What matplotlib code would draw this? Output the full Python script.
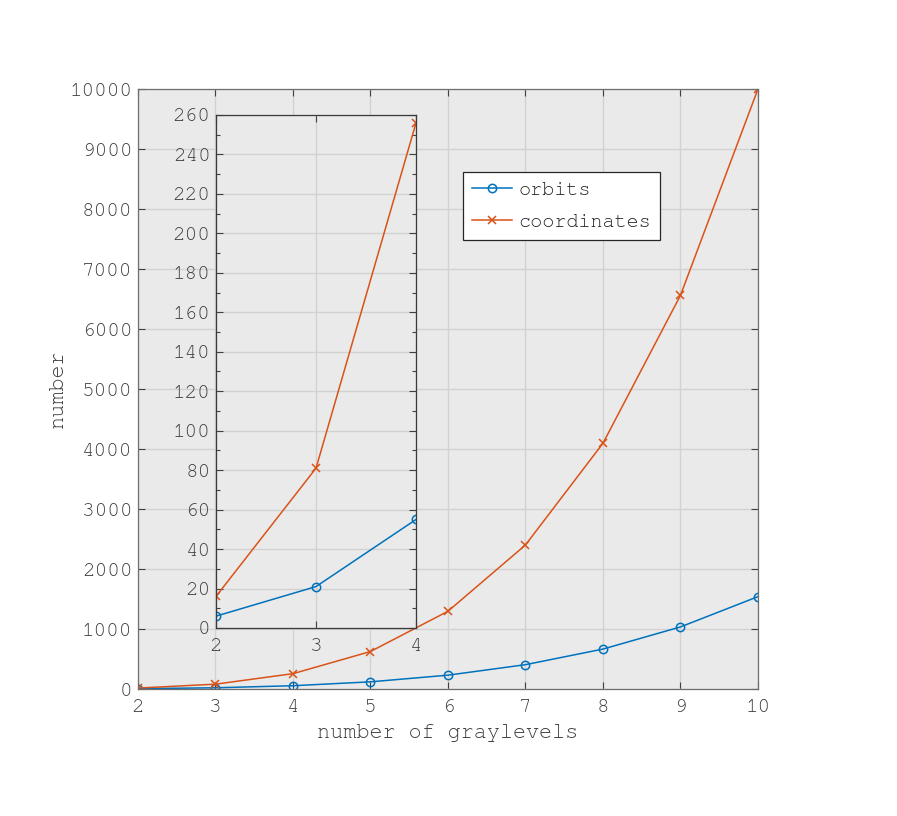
import matplotlib
matplotlib.use('Agg')
import matplotlib.pyplot as plt
from matplotlib.ticker import MultipleLocator

# Data
graylevels = [2, 3, 4, 5, 6, 7, 8, 9, 10]
orbits = [6, 21, 55, 120, 231, 406, 666, 1035, 1540]
coordinates = [16, 81, 256, 625, 1296, 2401, 4096, 6561, 10000]

main_yticks = [0, 1000, 2000, 3000, 4000, 5000, 6000, 7000, 8000, 9000, 10000]
inset_yticks = [0, 20, 40, 60, 80, 100, 120, 140, 160, 180, 200, 220, 240, 260]
inset_xticks = [2, 3, 4]

c_orb = '#0072BD'
c_coord = '#D95319'
bg = '#EAEAEA'
gridc = '#D2D2D2'
txt = '#404040'

plt.rcParams.update({
    'font.family': ['FreeMono', 'Liberation Mono', 'DejaVu Sans Mono'],
    'font.size': 14,
    'xtick.direction': 'in',
    'ytick.direction': 'in',
})

fig = plt.figure(figsize=(8.97, 8.16), dpi=100)
fig.patch.set_facecolor('white')

# Main axes
ax = fig.add_axes([0.1538, 0.1556, 0.6912, 0.7353])
ax.set_facecolor(bg)
ax.plot(graylevels, orbits, '-o', color=c_orb, lw=1.1, ms=6, mfc='none', mew=1.1, label='orbits')
ax.plot(graylevels, coordinates, '-x', color=c_coord, lw=1.1, ms=6, mew=1.1, label='coordinates')
ax.set_xlim(2, 10)
ax.set_ylim(0, 10000)
ax.set_xticks(graylevels)
ax.set_yticks(main_yticks)
ax.grid(True, color=gridc, lw=1)
ax.set_axisbelow(True)
ax.tick_params(which='both', top=True, right=True, colors=txt, labelsize=15, length=5, width=0.8, pad=4)
ax.tick_params(axis='x', pad=7)
for s in ax.spines.values():
    s.set_color('#6E6E6E')
    s.set_linewidth(0.9)
ax.set_xlabel('number of graylevels', fontsize=15.7, color=txt, labelpad=6)
ax.set_ylabel('number', fontsize=15.7, color=txt, labelpad=2)

leg = ax.legend(loc='upper left', bbox_to_anchor=(0.524, 0.862), borderaxespad=0,
                fancybox=False, framealpha=1, edgecolor='#262626', fontsize=14.5,
                handlelength=2.0, handletextpad=0.3, borderpad=0.45, labelspacing=0.7)
leg.get_frame().set_linewidth(0.9)
for t in leg.get_texts():
    t.set_color('#262626')

# Inset
axi = fig.add_axes([0.2408, 0.2304, 0.2230, 0.6287])
axi.set_facecolor(bg)
axi.plot(graylevels[:3], orbits[:3], '-o', color=c_orb, lw=1.1, ms=6, mfc='none', mew=1.1)
axi.plot(graylevels[:3], coordinates[:3], '-x', color=c_coord, lw=1.1, ms=6, mew=1.1)
axi.set_xlim(2, 4)
axi.set_ylim(0, 260)
axi.set_xticks(inset_xticks)
axi.set_yticks(inset_yticks)
axi.yaxis.set_minor_locator(MultipleLocator(10))
axi.grid(True, color=gridc, lw=1)
axi.set_axisbelow(True)
axi.tick_params(which='both', top=True, right=True, colors=txt, labelsize=15, width=0.8, pad=4)
axi.tick_params(axis='x', pad=7)
axi.tick_params(which='major', length=5)
axi.tick_params(which='minor', length=3)
for s in axi.spines.values():
    s.set_color('#3A3A3A')
    s.set_linewidth(0.9)

fig.savefig('out.png', dpi=100, facecolor='white')
